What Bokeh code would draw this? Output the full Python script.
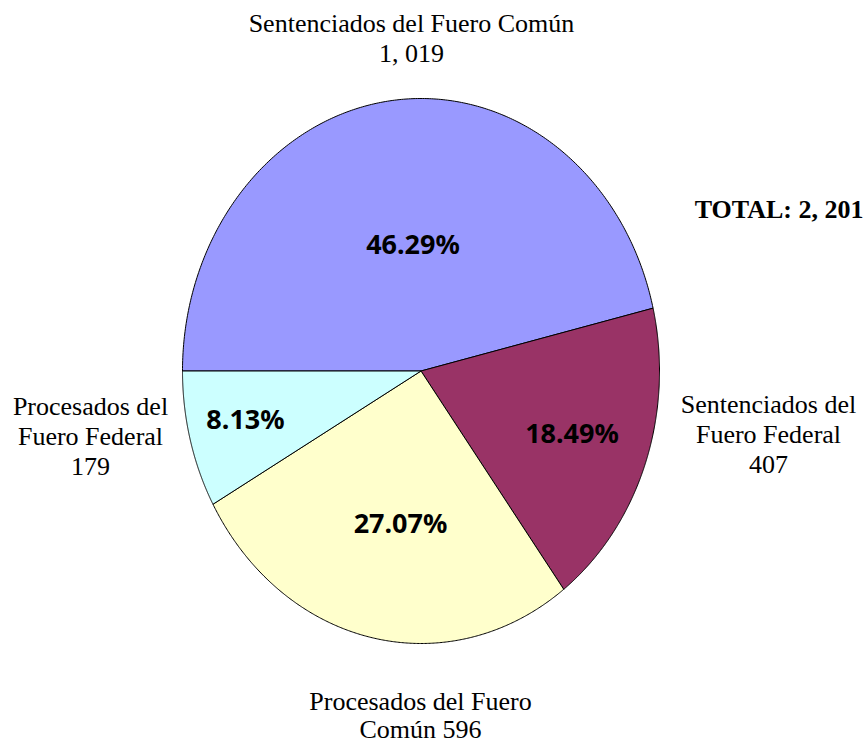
import numpy as np
from bokeh.plotting import figure
from bokeh.models import Range1d, ColumnDataSource
from bokeh.core.properties import value
from bokeh.embed import file_html
from bokeh.resources import INLINE

# ---------------- data ----------------
categories = [
    "Sentenciados del Fuero Común",
    "Sentenciados del Fuero Federal",
    "Procesados del Fuero Común",
    "Procesados del Fuero Federal",
]
counts = [1019, 407, 596, 179]
percent_labels = ["46.29%", "18.49%", "27.07%", "8.13%"]
colors = ["#9999FF", "#993366", "#FFFFCC", "#CCFFFF"]
label_lines = [
    ["Sentenciados del Fuero Común", "{n}"],
    ["Sentenciados del", "Fuero Federal", "{n}"],
    ["Procesados del Fuero", "Común {n}"],
    ["Procesados del", "Fuero Federal", "{n}"],
]
total_prefix = "TOTAL: "


def fmt(n):
    return f"{n:,}".replace(",", ", ")


# ---------------- layout (canvas pixels) ----------------
W, H = 866, 745
CX, CY = 420.5, 370.5      # pie centre
RX, RY = 238.5, 272.5      # pie radii (elliptical, as in the reference)

SERIF_SHIFT = 9     # rendered text sits lower than the anchor by about this
SANS_SHIFT = 10

# label anchor positions (canvas px): centre x, first baseline, line step
label_pos = [(411, 32, 30), (768, 413, 30), (420, 710, 28), (90, 415, 30)]
pct_pos = [(412.5, 253), (571.5, 442), (400, 532), (245, 428)]
total_pos = (863, 218)


def dx(px):
    return (px - CX) / RX


def dy(py):
    return (CY - py) / RY


p = figure(width=W, height=H, output_backend="svg", toolbar_location=None,
           x_range=Range1d(dx(0), dx(W)), y_range=Range1d(dy(H), dy(0)),
           x_axis_location=None, y_axis_location=None, min_border=0)
p.grid.visible = False
p.outline_line_color = None
p.background_fill_color = "white"
p.border_fill_color = "white"

# ---------------- pie slices ----------------
total = sum(counts)
xs, ys = [], []
start = np.pi
for c in counts:
    end = start - c / total * 2 * np.pi
    t = np.linspace(start, end, 300)
    xs.append([0.0] + list(np.cos(t)) + [0.0])
    ys.append([0.0] + list(np.sin(t)) + [0.0])
    start = end

p.patches(xs=xs, ys=ys, fill_color=colors, line_color="black", line_width=1)

# ---------------- percent labels ----------------
src_pct = ColumnDataSource(dict(x=[dx(a) for a, b in pct_pos],
                                y=[dy(b - SANS_SHIFT) for a, b in pct_pos],
                                text=percent_labels))
p.text(x="x", y="y", text="text", source=src_pct, text_align="center",
       text_baseline="alphabetic", text_font=value("Noto Sans"),
       text_font_style="bold", text_font_size="27px", text_color="black")

# ---------------- category labels ----------------
lx, ly, lt = [], [], []
for lines, n, (cx, by, step) in zip(label_lines, counts, label_pos):
    for i, ln in enumerate(lines):
        lx.append(dx(cx))
        ly.append(dy(by + i * step - SERIF_SHIFT))
        lt.append(ln.format(n=fmt(n)))
src_lab = ColumnDataSource(dict(x=lx, y=ly, text=lt))
p.text(x="x", y="y", text="text", source=src_lab, text_align="center",
       text_baseline="alphabetic", text_font=value("Liberation Serif"),
       text_font_size="26px", text_color="black")

# ---------------- total ----------------
p.text(x=[dx(total_pos[0])], y=[dy(total_pos[1] - SERIF_SHIFT)],
       text=[total_prefix + fmt(total)], text_align="right",
       text_baseline="alphabetic", text_font=value("Liberation Serif"),
       text_font_style="bold", text_font_size="26px", text_color="black")

open("out.html", "w").write(file_html(p, INLINE))
